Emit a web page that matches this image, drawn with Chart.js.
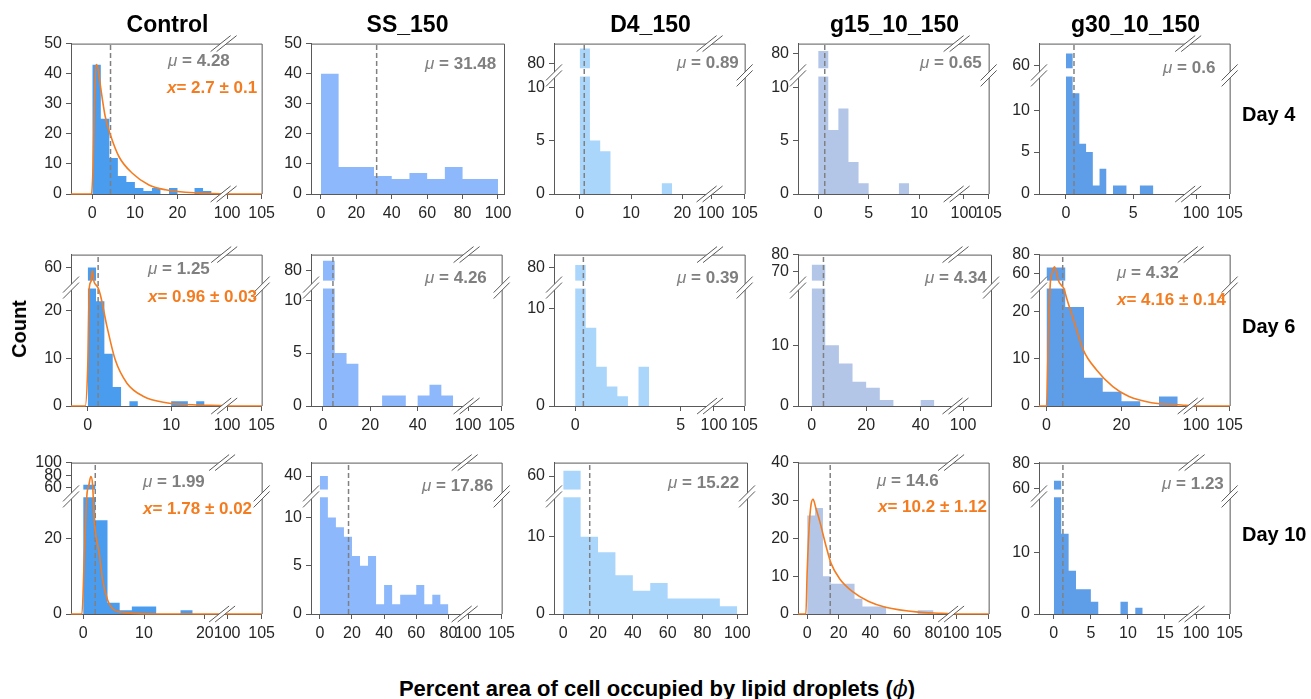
<!DOCTYPE html>
<html><head><meta charset="utf-8">
<script src="https://cdn.jsdelivr.net/npm/chart.js@4.4.0/dist/chart.umd.min.js"></script>
<style>
html,body{margin:0;padding:0;background:#fff;}
body{width:1311px;height:699px;position:relative;overflow:hidden;font-family:"Liberation Sans",Arial,sans-serif;}
canvas{position:absolute;}
.t{position:absolute;white-space:nowrap;line-height:1;z-index:5;}
.title{font-weight:bold;font-size:23px;color:#000;transform:translate(-50%,-50%);}
.day{font-weight:bold;font-size:20px;color:#000;transform:translateY(-50%);}
.mu{font-weight:bold;font-size:17px;color:#7f7f7f;transform:translateY(-50%);}
.mu i{font-weight:normal;}
.fit{font-weight:bold;font-size:17px;color:#f47c20;transform:translateY(-50%);}
.axt{font-weight:bold;color:#000;}
</style></head><body>
<script>
// ================= DATA =================
const groups = ['Control', 'SS_150', 'D4_150', 'g15_10_150', 'g30_10_150'];
const days = ['Day 4', 'Day 6', 'Day 10'];

// histogram bin widths (bins start at 0) and counts
const binWidthDay4 = [2, 10, 2, 1, 0.5];
const day4ControlCounts = [43, 25, 12, 6, 4, 2, 1, 2, 0, 2, 0, 0, 2, 1];
const day4SSCounts = [40, 9, 9, 6, 5, 7, 5, 9, 5, 5];
const day4D4Counts = [86, 5, 4, 0, 0, 0, 0, 0, 1];
const day4G15Counts = [81, 6, 8, 3, 1, 0, 0, 0, 1];
const day4G30Counts = [65, 12, 6, 5, 1, 3, 0, 1, 1, 0, 0, 1, 1];

const binWidthDay6 = [1, 5, 0.5, 5, 5];
const day6ControlCounts = [60, 22, 11, 4, 0, 1, 0, 0, 0, 0, 1, 1, 0, 1];
const day6SSCounts = [84, 5, 4, 0, 0, 1, 1, 0, 1, 2, 1];
const day6D4Counts = [81, 8, 4, 2, 1, 0, 4];
const day6G15Counts = [74, 10, 7, 4, 3, 1, 0, 0, 1];
const day6G30Counts = [66, 21, 6, 3, 1, 0, 2];

const binWidthDay10 = [2, 5, 10, 5, 1];
const day10ControlCounts = [65, 25, 3, 1, 2, 2, 0, 0, 1];
const day10SSCounts = [40, 10, 9, 8, 6, 5, 6, 1, 3, 1, 2, 2, 3, 1, 2, 1];
const day10D4Counts = [62, 10, 8, 5, 3, 4, 2, 2, 2, 1];
const day10G15Counts = [26, 28, 10, 8, 8, 8, 4, 2, 2, 2, 0, 0, 0, 0, 1, 1];
const day10G30Counts = [66, 13, 7, 4, 4, 2, 0, 0, 0, 2, 0, 1];

// means (dashed lines)
const meansDay4 = [4.28, 31.48, 0.89, 0.65, 0.6];
const meansDay6 = [1.25, 4.26, 0.39, 4.34, 4.32];
const meansDay10 = [1.99, 17.86, 15.22, 14.6, 1.23];

// fitted curves
const day4ControlFitX = [-5, -0.2, 0.2, 0.5, 0.9, 1.3, 2, 3, 4.4, 6.3, 9.4, 13.3, 17.2, 25, 30, 100, 105];
const day4ControlFitY = [0, 0, 10, 30, 43, 42, 35, 26, 19, 12.3, 6.9, 3, 1.4, 0.3, 0.1, 0, 0];
const day6ControlFitX = [-2, -0.3, 0, 0.2, 0.4, 0.55, 0.75, 1.0, 1.2, 1.5, 2.3, 3.3, 4.7, 6.7, 9.4, 13.3, 16, 100, 105];
const day6ControlFitY = [0, 0, 8, 30, 52, 59, 52, 38, 30, 23.5, 16.8, 9.7, 4.8, 2, 0.7, 0.2, 0.1, 0, 0];
const day6G30FitX = [-2, 0, 0.5, 1, 1.5, 2.1, 2.6, 3.2, 4.0, 4.6, 5.5, 7.2, 9.8, 13.3, 17.7, 22, 28, 36, 100, 105];
const day6G30FitY = [0, 0, 15, 40, 60, 67, 62, 52, 35, 26, 22.5, 18.3, 11.9, 7.7, 4.1, 2, 0.7, 0.2, 0, 0];
const day10ControlFitX = [-2, -0.2, 0.2, 0.6, 0.95, 1.26, 1.55, 1.82, 2.65, 3.2, 4.0, 5.1, 7.3, 12, 100, 105];
const day10ControlFitY = [0, 0, 16, 35, 65, 78, 65, 25, 16, 9, 3.8, 1.1, 0.3, 0, 0, 0];
const day10G15FitX = [-5.8, -0.8, 0, 1.25, 2.5, 3.75, 5.5, 7.9, 12.1, 15.2, 20.4, 28.75, 39, 49.6, 70.4, 85, 100, 105];
const day10G15FitY = [0, 0, 11, 23, 29, 30.3, 28, 24.6, 17.7, 13.3, 9.4, 5.9, 3.3, 1.8, 0.5, 0.2, 0, 0];

// fit parameter labels
const fitValues = { '0-0': [2.7, 0.1], '1-0': [0.96, 0.03], '1-4': [4.16, 0.14], '2-0': [1.78, 0.02], '2-3': [10.2, 1.12] };

// tick labels
const xTicksDay4 = [[0, 10, 20, 100, 105], [0, 20, 40, 60, 80, 100], [0, 10, 20, 100, 105], [0, 5, 10, 100, 105], [0, 5, 100, 105]];
const xTicksDay6 = [[0, 10, 100, 105], [0, 20, 40, 100, 105], [0, 5, 100, 105], [0, 20, 40, 100], [0, 20, 100, 105]];
const xTicksDay10 = [[0, 10, 20, 100, 105], [0, 20, 40, 60, 80, 100, 105], [0, 20, 40, 60, 80, 100], [0, 20, 40, 60, 80, 100, 105], [0, 5, 10, 15, 100, 105]];
const yTicksDay4 = [[0, 10, 20, 30, 40, 50], [0, 10, 20, 30, 40, 50], [0, 5, 10, 80], [0, 5, 10, 80], [0, 5, 10, 60]];
const yTicksDay6 = [[0, 10, 20, 60], [0, 5, 10, 80], [0, 10, 80], [0, 10, 70, 80], [0, 10, 20, 60, 80]];
const yTicksDay10 = [[0, 20, 60, 80, 100], [0, 5, 10, 40], [0, 10, 60], [0, 10, 20, 30, 40], [0, 10, 60, 80]];

// ================= LAYOUT / STYLE =================
const colLeft = [71, 311, 554, 798, 1039];
const boxW = 193;
const rowTop = [42, 253, 461];
const rowH = [152, 153, 153];
const PAD_L = 55, PAD_R = 16, PAD_T = 12, PAD_B = 30;
const barColors = ['#4a9cef', '#8db8fb', '#aad6fc', '#b3c6e7', '#5e9de8'];
const ORANGE = '#f47c20';
const AXIS = '#595959';
const FONT = "'Liberation Sans', Arial, sans-serif";

// axis segments: [from, to, fracFrom, fracTo, ...]
const xSegs = [
  [[-5, 30, 0, 0.782, 100, 105, 0.819, 1], [-5.6, 103.4, 0, 1], [-5, 25, 0, 0.808, 100, 105, 0.824, 1], [-2, 13, 0, 0.794, 100, 105, 0.870, 1], [-2, 8.5, 0, 0.741, 100, 105, 0.824, 1]],
  [[-2, 16, 0, 0.788, 100, 105, 0.819, 1], [-5, 60, 0, 0.808, 100, 105, 0.824, 1], [-1, 6.2, 0, 0.798, 100, 105, 0.839, 1], [-5, 50, 0, 0.777, 100, 105.5, 0.855, 1], [-2, 37, 0, 0.767, 100, 105, 0.824, 1]],
  [[-2, 22, 0, 0.766, 100, 105, 0.819, 1], [-5.5, 88, 0, 0.788, 100, 105, 0.824, 1], [-5.3, 105.6, 0, 1], [-5.8, 88, 0, 0.777, 100, 105, 0.829, 1], [-2, 18, 0, 0.777, 100, 105, 0.824, 1]]
];
const ySegs = [
  [[0, 50, 0, 1], [0, 50, 0, 1], [0, 11, 0, .781, 78, 88, .836, 1], [0, 11, 0, .781, 74, 84, .836, 1], [0, 14, 0, .781, 59, 69, .836, 1]],
  [[0, 24.7, 0, .776, 55, 65, .828, 1], [0, 11.1, 0, .776, 76, 86.5, .828, 1], [0, 12, 0, .776, 74.7, 85.2, .828, 1], [0, 19.3, 0, .776, 64.6, 80, .828, 1], [0, 24.9, 0, .776, 52, 80, .828, 1]],
  [[0, 31.1, 0, .771, 57.5, 100, .822, 1], [0, 12.1, 0, .771, 35, 45, .822, 1], [0, 15.1, 0, .771, 55, 65, .822, 1], [0, 40, 0, 1], [0, 18.9, 0, .771, 59, 80.5, .822, 1]]
];
const muPos = [
  [[168, 60], [425, 63], [677, 62], [920, 62], [1163, 67]],
  [[148, 268], [425, 277], [677, 277], [925, 277], [1117, 272]],
  [[143, 481], [422, 485], [668, 482], [877, 480], [1162, 483]]
];
const fitPos = { '0-0': [167, 87], '1-0': [148, 296], '1-4': [1117, 299], '2-0': [143, 508], '2-3': [878, 506] };

// ================= BROKEN AXIS SCALE =================
class BrokenScale extends Chart.LinearScale {
  determineDataLimits() {
    const s = this.options.segs;
    this.min = s[0];
    this.max = s[s.length - 3];
  }
  buildTicks() {
    return this.options.tickValues.map(v => ({ value: v }));
  }
  _toDec(v) {
    const s = this.options.segs, n = s.length / 4;
    for (let i = 0; i < n; i++) {
      const a = s[4 * i], b = s[4 * i + 1], fa = s[4 * i + 2], fb = s[4 * i + 3];
      if (v <= b || i === n - 1) {
        if (v >= a || i === 0) return fa + (v - a) / (b - a) * (fb - fa);
        const pb = s[4 * i - 3], pfb = s[4 * i - 1];
        return pfb + (v - pb) / (a - pb) * (fa - pfb);
      }
    }
    return 0;
  }
  _fromDec(d) {
    const s = this.options.segs, n = s.length / 4;
    for (let i = 0; i < n; i++) {
      const a = s[4 * i], b = s[4 * i + 1], fa = s[4 * i + 2], fb = s[4 * i + 3];
      if (d <= fb || i === n - 1) {
        if (d >= fa || i === 0) return a + (d - fa) / (fb - fa) * (b - a);
        const pb = s[4 * i - 3], pfb = s[4 * i - 1];
        return pb + (d - pfb) / (fa - pfb) * (a - pb);
      }
    }
    return 0;
  }
  getPixelForValue(v) {
    if (v === null || v === undefined || isNaN(v)) return NaN;
    return this.getPixelForDecimal(this._toDec(v));
  }
  getValueForPixel(p) {
    return this._fromDec(this.getDecimalForPixel(p));
  }
}
BrokenScale.id = 'broken';
BrokenScale.defaults = Chart.LinearScale.defaults;
Chart.register(BrokenScale);

function drawMark(ctx, cx, cy, dir) {
  let l1, l2;
  if (dir === 'v') {
    l1 = [cx - 8, cy + 5, cx + 8, cy - 11];
    l2 = [cx - 8, cy + 11, cx + 8, cy - 5];
  } else {
    l1 = [cx - 13, cy + 8, cx + 7, cy - 8];
    l2 = [cx - 7, cy + 8, cx + 13, cy - 8];
  }
  ctx.fillStyle = '#fff';
  ctx.beginPath();
  ctx.moveTo(l1[0], l1[1]); ctx.lineTo(l1[2], l1[3]); ctx.lineTo(l2[2], l2[3]); ctx.lineTo(l2[0], l2[1]);
  ctx.closePath(); ctx.fill();
  ctx.strokeStyle = AXIS; ctx.lineWidth = 1;
  ctx.beginPath();
  ctx.moveTo(l1[0], l1[1]); ctx.lineTo(l1[2], l1[3]);
  ctx.moveTo(l2[0], l2[1]); ctx.lineTo(l2[2], l2[3]);
  ctx.stroke();
}

const breakPlugin = {
  id: 'breaks',
  afterDatasetDraw(chart, args) {
    if (args.index !== 0) return;
    const ys = chart.scales.y, a = chart.chartArea, ctx = chart.ctx;
    const s = ys.options.segs;
    if (s.length > 4) {
      const p1 = ys.getPixelForValue(s[1]), p2 = ys.getPixelForValue(s[4]);
      ctx.save(); ctx.fillStyle = '#fff';
      ctx.fillRect(a.left + 1, p2, a.right - a.left - 1, p1 - p2);
      ctx.restore();
    }
  },
  afterDraw(chart) {
    const ctx = chart.ctx, a = chart.chartArea;
    ctx.save();
    ctx.strokeStyle = AXIS; ctx.lineWidth = 1;
    ctx.beginPath();
    ctx.moveTo(a.left, a.top + 0.5); ctx.lineTo(a.right + 0.5, a.top + 0.5); ctx.lineTo(a.right + 0.5, a.bottom);
    ctx.stroke();
    const ys = chart.scales.y, xs = chart.scales.x;
    const sy = ys.options.segs, sx = xs.options.segs;
    if (sy.length > 4) {
      const cy = (ys.getPixelForValue(sy[1]) + ys.getPixelForValue(sy[4])) / 2;
      drawMark(ctx, a.left, cy + 3, 'v');
      drawMark(ctx, a.right, cy + 3, 'v');
    }
    if (sx.length > 4) {
      const cx = (xs.getPixelForValue(sx[1]) + xs.getPixelForValue(sx[4])) / 2;
      drawMark(ctx, cx, a.top, 'h');
      drawMark(ctx, cx, a.bottom, 'h');
    }
    ctx.restore();
  }
};

// ================= BUILD =================
const countsAll = [
  [day4ControlCounts, day4SSCounts, day4D4Counts, day4G15Counts, day4G30Counts],
  [day6ControlCounts, day6SSCounts, day6D4Counts, day6G15Counts, day6G30Counts],
  [day10ControlCounts, day10SSCounts, day10D4Counts, day10G15Counts, day10G30Counts]
];
const widthsAll = [binWidthDay4, binWidthDay6, binWidthDay10];
const meansAll = [meansDay4, meansDay6, meansDay10];
const xTicksAll = [xTicksDay4, xTicksDay6, xTicksDay10];
const yTicksAll = [yTicksDay4, yTicksDay6, yTicksDay10];
const fitsAll = {
  '0-0': [day4ControlFitX, day4ControlFitY],
  '1-0': [day6ControlFitX, day6ControlFitY],
  '1-4': [day6G30FitX, day6G30FitY],
  '2-0': [day10ControlFitX, day10ControlFitY],
  '2-3': [day10G15FitX, day10G15FitY]
};

function addText(cls, html, left, top) {
  const d = document.createElement('div');
  d.className = 't ' + cls;
  d.innerHTML = html;
  d.style.left = left + 'px';
  d.style.top = top + 'px';
  document.body.appendChild(d);
}

function axisOpts(segs, ticks, isX) {
  return {
    type: 'broken',
    segs: segs,
    tickValues: ticks,
    offset: false,
    grid: { display: true, drawOnChartArea: false, drawTicks: true, tickLength: 5, color: AXIS, lineWidth: 1 },
    border: { display: true, color: AXIS, width: 1 },
    ticks: {
      autoSkip: false, maxRotation: 0, minRotation: 0, padding: isX ? 5 : 4,
      color: '#262626', font: { family: FONT, size: 16 },
      callback: v => String(v)
    },
    afterFit: isX ? (s => { s.height = PAD_B; }) : (s => { s.width = PAD_L; })
  };
}

for (let r = 0; r < 3; r++) {
  for (let c = 0; c < 5; c++) {
    const h = rowH[r];
    const W = PAD_L + boxW + PAD_R, H = PAD_T + h + PAD_B;
    const cv = document.createElement('canvas');
    cv.width = W; cv.height = H;
    cv.style.width = W + 'px'; cv.style.height = H + 'px';
    cv.style.left = (colLeft[c] - PAD_L) + 'px';
    cv.style.top = (rowTop[r] - PAD_T) + 'px';
    document.body.appendChild(cv);

    const counts = countsAll[r][c], w = widthsAll[r][c];
    const hist = counts.map((v, i) => ({ x: i * w, y: v }));
    hist.push({ x: counts.length * w, y: 0 });
    const ys = ySegs[r][c];
    const yMax = ys[ys.length - 3];
    const mu = meansAll[r][c];
    const key = r + '-' + c;

    const datasets = [
      { data: hist, stepped: true, fill: 'origin', backgroundColor: barColors[c], borderColor: 'rgba(0,0,0,0)', borderWidth: 0, pointRadius: 0, order: 3 },
      { data: [{ x: mu, y: 0 }, { x: mu, y: yMax }], fill: false, borderColor: '#808080', borderWidth: 1.5, borderDash: [5, 3], pointRadius: 0, order: 2 }
    ];
    if (fitsAll[key]) {
      const [fx, fy] = fitsAll[key];
      datasets.push({ data: fx.map((x, i) => ({ x: x, y: fy[i] })), fill: false, borderColor: ORANGE, borderWidth: 1.6, pointRadius: 0, cubicInterpolationMode: 'monotone', order: 1 });
    }

    new Chart(cv, {
      type: 'line',
      data: { datasets },
      options: {
        responsive: false, animation: false, events: [],
        layout: { autoPadding: false, padding: { left: 0, right: PAD_R, top: PAD_T, bottom: 0 } },
        plugins: { legend: { display: false }, tooltip: { enabled: false } },
        scales: {
          x: axisOpts(xSegs[r][c], xTicksAll[r][c], true),
          y: axisOpts(ys, yTicksAll[r][c], false)
        }
      },
      plugins: [breakPlugin]
    });

    addText('mu', '<i>\u03bc</i> = ' + String(mu), muPos[r][c][0], muPos[r][c][1]);
    if (fitValues[key]) {
      const fv = fitValues[key];
      addText('fit', '<i>x</i>= ' + String(fv[0]) + ' \u00b1 ' + String(fv[1]), fitPos[key][0], fitPos[key][1]);
    }
  }
}

// titles and labels
for (let c = 0; c < 5; c++) addText('title', groups[c], colLeft[c] + boxW / 2, 24);
for (let r = 0; r < 3; r++) addText('day', days[r], 1242, rowTop[r] + rowH[r] / 2 - 4);
(function () {
  const d = document.createElement('div');
  d.className = 't axt';
  d.style.fontSize = '20px';
  d.style.left = '19px'; d.style.top = '329px';
  d.style.transform = 'translate(-50%,-50%) rotate(-90deg)';
  d.textContent = 'Count';
  document.body.appendChild(d);
  const e = document.createElement('div');
  e.className = 't axt';
  e.style.fontSize = '22px';
  e.style.left = '657px'; e.style.top = '689px';
  e.style.transform = 'translate(-50%,-50%)';
  e.innerHTML = 'Percent area of cell occupied by lipid droplets (<i style="font-weight:normal;font-family:\'DejaVu Serif\',serif">\u03d5</i>)';
  document.body.appendChild(e);
})();
</script>
</body></html>
